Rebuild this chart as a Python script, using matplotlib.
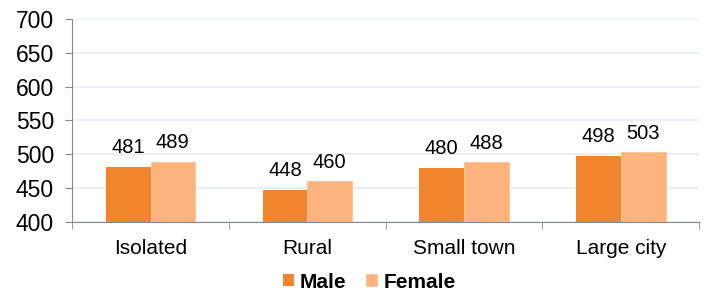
import numpy as np
import matplotlib.pyplot as plt

plt.rcParams['font.family'] = ['Liberation Sans', 'DejaVu Sans']

categories = ["Isolated", "Rural", "Small town", "Large city"]
male = [481, 448, 480, 498]
female = [489, 460, 488, 503]

c_male = "#f0852d"
c_female = "#fdb37e"

fig = plt.figure(figsize=(7.07, 2.96), dpi=100)
ax = fig.add_axes([0.102, 0.25, 0.887, 0.686])

x = np.arange(len(categories))
w = 0.285
ax.bar(x - w / 2, [v - 400 for v in male], w, bottom=400, color=c_male,
       label="Male", zorder=3)
ax.bar(x + w / 2, [v - 400 for v in female], w, bottom=400, color=c_female,
       edgecolor="#fcc69c", linewidth=0.8, label="Female", zorder=3)

for i in range(len(categories)):
    ax.annotate(str(male[i]), (x[i] - w / 2, male[i]), xytext=(0, 7),
                textcoords="offset points", ha="center", va="bottom", fontsize=14.5)
    ax.annotate(str(female[i]), (x[i] + w / 2, female[i]), xytext=(0, 7),
                textcoords="offset points", ha="center", va="bottom", fontsize=14.5)

ax.set_ylim(400, 700)
ax.set_yticks(range(400, 701, 50))
ax.set_xlim(-0.5, len(categories) - 0.5)
ax.set_xticks(x)
ax.set_xticklabels(categories, fontsize=15)
ax.set_xticks(np.arange(-0.5, len(categories), 1), minor=True)
ax.tick_params(axis="x", which="major", length=0, pad=12)
ax.tick_params(axis="x", which="minor", length=5, color="#888888", direction="out")
ax.tick_params(axis="y", labelsize=16.5, length=5, color="#888888", pad=8)

ax.yaxis.grid(True, color="#e6ecf3", linewidth=1.2, zorder=0)
for s in ["top", "right"]:
    ax.spines[s].set_visible(False)
for s in ["left", "bottom"]:
    ax.spines[s].set_color("#888888")

fig.legend(loc="center", bbox_to_anchor=(0.522, 0.047), ncol=2, frameon=False,
           prop={"weight": "bold", "size": 15}, handlelength=0.53, handleheight=0.53,
           handletextpad=0.29, columnspacing=0.96, borderaxespad=0, borderpad=0)

fig.savefig("out.png", dpi=100)
